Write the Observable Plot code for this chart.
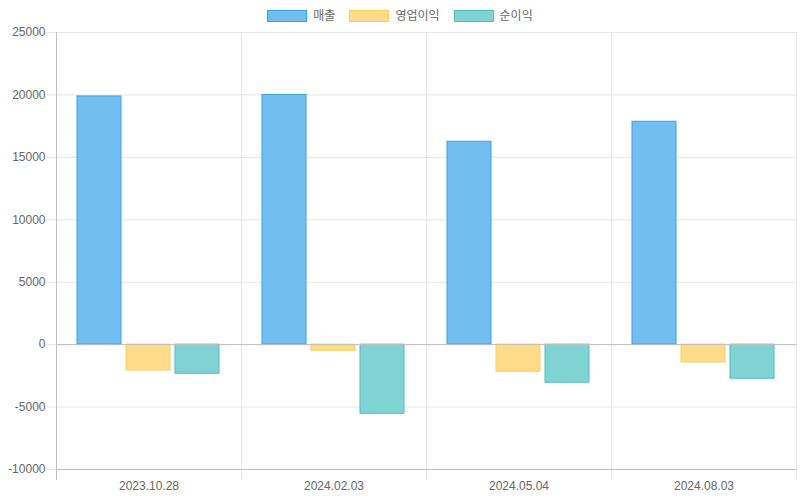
<!DOCTYPE html>
<html>
<head>
<meta charset="utf-8">
<script src="https://cdn.jsdelivr.net/npm/d3@7"></script>
<script src="https://cdn.jsdelivr.net/npm/@observablehq/plot@0.6"></script>
<style>
  html, body { margin: 0; padding: 0; background: #fff; }
  body { width: 800px; height: 500px; overflow: hidden; font-family: "Liberation Sans", Arial, "Noto Sans CJK KR", sans-serif; }
  #legend { height: 24px; box-sizing: border-box; padding-top: 10px; display: flex; justify-content: center; align-items: flex-start; font-size: 12px; color: #666; }
  .item { display: flex; align-items: center; margin: 0 7px; }
  .box { width: 40px; height: 12px; box-sizing: border-box; border: 1px solid; margin-right: 6px; }
  .lbl { line-height: 12px; }
  svg { display: block; overflow: visible; }
</style>
</head>
<body>
<div id="legend"></div>
<div id="chart"></div>
<script>
const dates = ["2023.10.28", "2024.02.03", "2024.05.04", "2024.08.03"];
const seriesNames = ["매출", "영업이익", "순이익"];
const sales = [19880, 20000, 16250, 17850];
const operatingProfit = [-2070, -490, -2170, -1430];
const netProfit = [-2330, -5540, -3050, -2730];
const fills = ["#72bef1", "#ffdc89", "#81d3d3"];
const strokes = ["#36a2eb", "#ffcd56", "#4bc0c0"];
const yTicks = [-10000, -5000, 0, 5000, 10000, 15000, 20000, 25000];

const valuesBySeries = [sales, operatingProfit, netProfit];
const rows = [];
dates.forEach((d, i) => {
  seriesNames.forEach((s, j) => rows.push({date: d, series: s, value: valuesBySeries[j][i]}));
});

// legend
const legend = document.getElementById("legend");
seriesNames.forEach((s, j) => {
  const it = document.createElement("div");
  it.className = "item";
  const b = document.createElement("span");
  b.className = "box";
  b.style.background = fills[j];
  b.style.borderColor = strokes[j];
  const t = document.createElement("span");
  t.className = "lbl";
  t.textContent = s;
  it.appendChild(b); it.appendChild(t);
  legend.appendChild(it);
});

const chart = Plot.plot({
  width: 800,
  height: 476,
  marginTop: 8,
  marginBottom: 31,
  marginLeft: 54,
  marginRight: 3,
  style: {fontFamily: '"Liberation Sans", Arial, sans-serif', fontSize: "12px", color: "#666", background: "#fff"},
  fx: {domain: dates, padding: 0, label: null},
  x: {domain: seriesNames, paddingInner: 0.1, paddingOuter: 0.425, axis: null},
  y: {domain: [-10000, 25000], label: null},
  color: {domain: seriesNames, range: fills},
  marks: [
    Plot.gridY(yTicks, {stroke: "#e6e6e6", strokeOpacity: 1}),
    Plot.frame({anchor: "left", stroke: "#e6e6e6", insetBottom: -10}),
    Plot.frame({anchor: "right", stroke: "#e6e6e6", insetBottom: -10}),
    Plot.barY(rows, {fx: "date", x: "series", y: "value", fill: "series", stroke: (d) => strokes[seriesNames.indexOf(d.series)], strokeWidth: 1}),
    Plot.ruleY([0], {stroke: "#bfbfbf"}),
    Plot.ruleY([-10000], {stroke: "#bfbfbf"}),
    Plot.frame({anchor: "left", facet: "super", stroke: "#bfbfbf", insetBottom: -10}),
    Plot.axisY(yTicks, {tickSize: 10, tickPadding: 1, stroke: "#e6e6e6", fill: "#666", tickFormat: (d) => String(d), label: null}),
    Plot.axisFx({anchor: "bottom", tickSize: 0, tickPadding: 12, fill: "#666", label: null})
  ]
});
document.getElementById("chart").appendChild(chart);
</script>
</body>
</html>
